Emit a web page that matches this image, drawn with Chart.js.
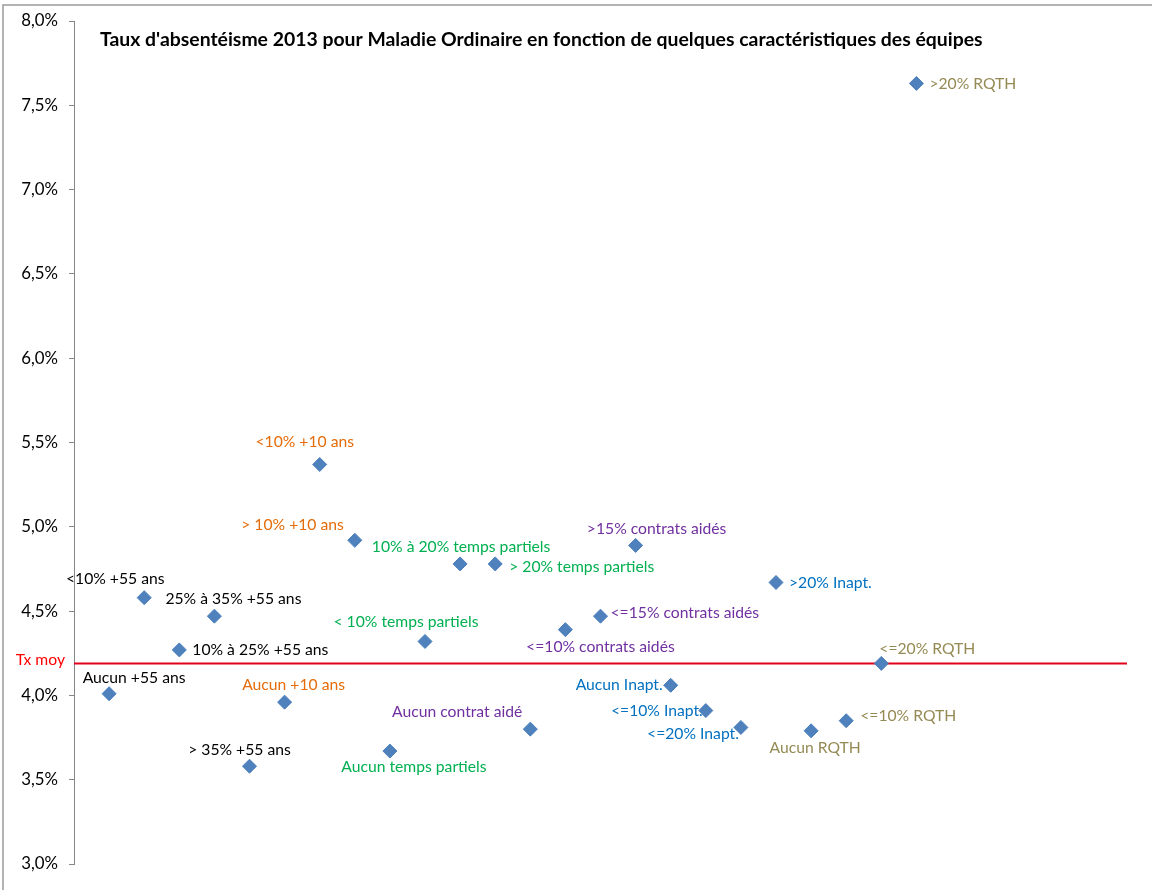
<!DOCTYPE html>
<html>
<head>
<meta charset="utf-8">
<script src="https://cdn.jsdelivr.net/npm/chart.js@4"></script>
<style>
  html, body { margin: 0; padding: 0; background: #fff; }
  #wrap { width: 1152px; height: 890px; position: relative; }
</style>
</head>
<body>
<div id="wrap"><canvas id="chart-absent" width="1152" height="890"></canvas></div>
<script>
// Taux d'absentéisme 2013 - Maladie Ordinaire
const TITLE = "Taux d'absentéisme 2013 pour Maladie Ordinaire en fonction de quelques caractéristiques des équipes";

const CATEGORIES = [
  "Aucun +55 ans", "<10% +55 ans", "10% à 25% +55 ans", "25% à 35% +55 ans", "> 35% +55 ans",
  "Aucun +10 ans", "<10% +10 ans", "> 10% +10 ans",
  "Aucun temps partiels", "< 10% temps partiels", "10% à 20% temps partiels", "> 20% temps partiels",
  "Aucun contrat aidé", "<=10% contrats aidés", "<=15% contrats aidés", ">15% contrats aidés",
  "Aucun Inapt.", "<=10% Inapt.", "<=20% Inapt.", ">20% Inapt.",
  "Aucun RQTH", "<=10% RQTH", "<=20% RQTH", ">20% RQTH",
];
const POSITIONS = [1, 2, 3, 4, 5, 6, 7, 8, 9, 10, 11, 12, 13, 14, 15, 16, 17, 18, 19, 20, 21, 22, 23, 24];
const VALUES = [
  4.01, 4.58, 4.27, 4.47, 3.58,
  3.96, 5.37, 4.92,
  3.67, 4.32, 4.78, 4.78,
  3.80, 4.39, 4.47, 4.89,
  4.06, 3.91, 3.81, 4.67,
  3.79, 3.85, 4.19, 7.63,
];
const GROUPS = [
  "age", "age", "age", "age", "age",
  "anc", "anc", "anc",
  "tp", "tp", "tp", "tp",
  "ca", "ca", "ca", "ca",
  "inapt", "inapt", "inapt", "inapt",
  "rqth", "rqth", "rqth", "rqth",
];
const TX_MOY = 4.19;
const X_RANGE = [0, 30];
const Y_RANGE = [3, 8];

const GROUP_COLORS = { age: "#000000", anc: "#E46C0A", tp: "#00B050", ca: "#7030A0", inapt: "#0070C0", rqth: "#948A54" };

// label placement relative to the marker: [align, dx, dy]
const LABEL_PLACE = [
  ["c", 25, -16], ["c", -29, -19], ["l", 13, 0], ["c", 19, -17], ["c", -10, -16],
  ["c", 9, -17], ["c", -15, -23], ["r", -11, -15],
  ["c", 24, 16], ["c", -19, -20], ["c", 1, -17], ["l", 14, 3],
  ["r", -8, -17], ["c", 35, 17], ["l", 10, -3], ["c", 21, -16],
  ["r", -8, 0], ["r", -3, 0], ["r", -2, 6], ["l", 13, 0],
  ["c", 4, 17], ["l", 14, -5], ["l", -2, -14], ["l", 13, 0],
];

const FONT = "Lato, 'Open Sans', sans-serif";
const AXIS_GREY = "#868686";

const decor = {
  id: "decor",
  beforeDraw(chart) {
    const ctx = chart.ctx;
    ctx.save();
    ctx.strokeStyle = "#9a9a9a";
    ctx.lineWidth = 1.5;
    ctx.beginPath();
    ctx.moveTo(3, chart.height);
    ctx.lineTo(3, 5);
    ctx.lineTo(chart.width, 5);
    ctx.stroke();
    ctx.restore();
  },
  afterDatasetsDraw(chart) {
    const ctx = chart.ctx;
    const meta = chart.getDatasetMeta(1);
    const area = chart.chartArea;
    ctx.save();
    ctx.font = "15.7px " + FONT;
    ctx.textBaseline = "middle";
    meta.data.forEach((pt, i) => {
      const [align, dx, dy] = LABEL_PLACE[i];
      ctx.textAlign = align === "c" ? "center" : align === "l" ? "left" : "right";
      ctx.fillStyle = GROUP_COLORS[GROUPS[i]];
      ctx.fillText(CATEGORIES[i], pt.x + dx, pt.y + dy);
    });
    // average line label
    const yMoy = chart.scales.y.getPixelForValue(TX_MOY);
    ctx.fillStyle = "#FF0000";
    ctx.textAlign = "right";
    ctx.fillText("Tx moy", area.left - 9, yMoy - 3);
    // title
    ctx.font = "bold 19.4px " + FONT;
    ctx.fillStyle = "#000";
    ctx.textAlign = "left";
    ctx.fillText(TITLE, 100, 40);
    ctx.restore();
  },
};

new Chart(document.getElementById("chart-absent"), {
  type: "scatter",
  data: {
    datasets: [
      {
        label: "Tx moy",
        type: "line",
        data: X_RANGE.map(x => ({ x, y: TX_MOY })),
        borderColor: "#E3001B",
        borderWidth: 2,
        pointRadius: 0,
        fill: false,
        order: 2,
      },
      {
        label: "Équipes",
        data: POSITIONS.map((x, i) => ({ x, y: VALUES[i] })),
        pointStyle: "rectRot",
        pointRadius: 7,
        pointHoverRadius: 7,
        backgroundColor: "#4F81BD",
        borderColor: "#4A7EBB",
        borderWidth: 1,
        order: 1,
      },
    ],
  },
  options: {
    responsive: false,
    animation: false,
    layout: { padding: { left: 0, top: 19, right: 25, bottom: 26 } },
    plugins: { legend: { display: false }, title: { display: false }, tooltip: { enabled: false } },
    scales: {
      x: { type: "linear", min: X_RANGE[0], max: X_RANGE[1], display: false },
      y: {
        min: Y_RANGE[0], max: Y_RANGE[1],
        afterFit: (s) => { s.width = 74; },
        border: { display: true, color: AXIS_GREY, width: 1 },
        grid: { drawOnChartArea: false, drawTicks: true, tickLength: 5, color: AXIS_GREY },
        ticks: {
          stepSize: 0.5, padding: 11, color: "#000",
          font: { family: FONT, size: 16.8 },
          callback: (v) => v.toFixed(1).replace(".", ",") + "%",
        },
      },
    },
  },
  plugins: [decor],
});
</script>
</body>
</html>
